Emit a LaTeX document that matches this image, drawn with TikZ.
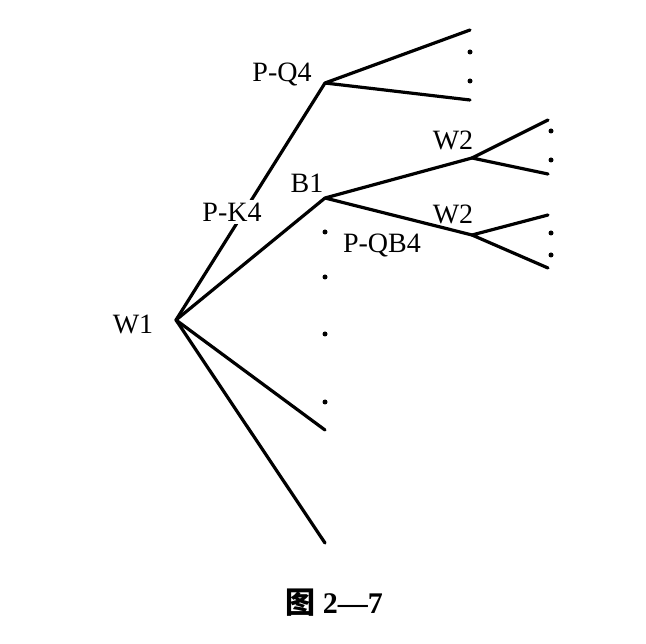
\documentclass[tikz,border=0pt]{standalone}
\usepackage{fontspec}
\setmainfont{Liberation Serif}
\newfontfamily\cjk{Noto Sans CJK SC}
\usetikzlibrary{positioning}
\tikzstyle{every node}=[font=\fontsize{28}{30}\selectfont]
\tikzstyle{branch}=[line width=3.2pt, line cap=round, line join=round]
\tikzstyle{dot}=[circle, fill, inner sep=0pt, minimum size=5pt]
\tikzstyle{lbl}=[inner sep=1pt]

\begin{document}
\begin{tikzpicture}[x=1pt,y=-1pt]
            \useasboundingbox (0,0) rectangle (646,644);
            % vertices of the tree
            \coordinate (w1) at (176,320);
            \coordinate (pq4) at (325,83);
            \coordinate (b1) at (325,198);
            \coordinate (w2a) at (472,158);
            \coordinate (w2b) at (472,235);
            % free ends
            \coordinate (a1) at (470,30);
            \coordinate (a2) at (470,100);
            \coordinate (c1) at (548,120);
            \coordinate (c2) at (548,174);
            \coordinate (d1) at (548,215);
            \coordinate (d2) at (548,268);
            \coordinate (e1) at (325,430);
            \coordinate (e2) at (325,543);
            \draw[branch] (w1) -- (pq4);
            \draw[branch] (w1) -- (b1);
            \draw[branch] (w1) -- (e1);
            \draw[branch] (w1) -- (e2);
            \draw[branch] (a1) -- (pq4) -- (a2);
            \draw[branch] (w2a) -- (b1) -- (w2b);
            \draw[branch] (c1) -- (w2a) -- (c2);
            \draw[branch] (d1) -- (w2b) -- (d2);
            % labels
            \node[lbl] (lw1) at (133,324) {W1};
            \node[lbl] (lpq4) at (282,75) {P-Q4};
            \node[lbl, fill=white, inner ysep=3pt] (lpk4) at (232,212) {P-K4};
            \node[lbl] (lb1) at (307,183) {B1};
            \node[lbl] (lw2a) at (453,140) {W2};
            \node[lbl] (lw2b) at (453,214) {W2};
            \node[lbl] (lpqb4) at (382,246) {P-QB4};
            % dots
            \foreach \y in {232,277,334,402} \node[dot] at (325,\y) {};
            \foreach \y in {52,81} \node[dot] at (470,\y) {};
            \foreach \y in {131,160,233,255} \node[dot] at (551,\y) {};
            \node (cap) at (334,603) {\fontsize{30}{32}\selectfont{\cjk\bfseries 图} \textbf{2—7}};
        \end{tikzpicture}
\end{document}
